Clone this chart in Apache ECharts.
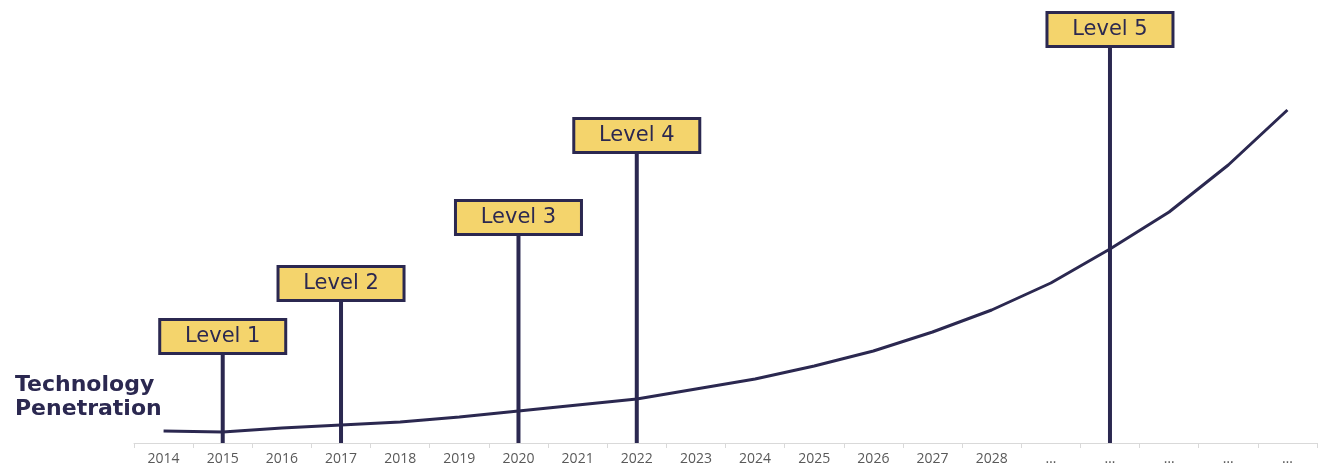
<!DOCTYPE html>
<html>
<head>
<meta charset="utf-8">
<script src="https://cdn.jsdelivr.net/npm/echarts@6/dist/echarts.min.js"></script>
<style>
  html, body { margin: 0; padding: 0; background: #fff; }
  #chart { width: 1324px; height: 467px; }
</style>
</head>
<body>
<div id="chart"></div>
<script>
// categories on the x axis
const years = ['2014', '2015', '2016', '2017', '2018', '2019', '2020', '2021', '2022', '2023',
  '2024', '2025', '2026', '2027', '2028', '…', '… ', '…  ', '…   ', '…    '];
// technology penetration curve
const penetration = [3, 2.75, 3.75, 4.5, 5.25, 6.5, 8, 9.5, 11, 13.5,
  16, 19.25, 23, 27.75, 33.25, 40, 48.5, 57.75, 69.5, 83.25];
// autonomy levels: where each marker stands and how tall its pole is
const levelNames = ['Level 1', 'Level 2', 'Level 3', 'Level 4', 'Level 5'];
const levelAt = ['2015', '2017', '2020', '2022', '… '];
const levelHeight = [22.75, 36, 52.5, 73, 99.5];

const ink = '#2b2850';

const levelData = years.map(function (y) {
  const i = levelAt.indexOf(y);
  if (i < 0) return null;
  return { value: levelHeight[i], name: levelNames[i] };
});

const chart = echarts.init(document.getElementById('chart'));
chart.setOption({
  animation: false,
  title: {
    text: 'Technology\nPenetration',
    left: 10,
    top: 368,
    textStyle: {
      fontFamily: 'DejaVu Sans',
      fontWeight: 'bold',
      fontSize: 22,
      lineHeight: 24,
      color: ink
    }
  },
  grid: { left: 134, right: 7, top: 43, bottom: 24, containLabel: false },
  xAxis: {
    type: 'category',
    data: years,
    boundaryGap: true,
    axisLine: { lineStyle: { color: '#d9d9d9', width: 1 } },
    axisTick: { show: true, length: 5, lineStyle: { color: '#d9d9d9' } },
    axisLabel: {
      color: '#595959',
      fontSize: 14,
      fontFamily: 'Open Sans',
      margin: 9,
      formatter: function (v) { return v.trim(); }
    }
  },
  yAxis: {
    type: 'value',
    min: 0,
    max: 100,
    show: false,
    splitLine: { show: false }
  },
  series: [
    {
      type: 'line',
      data: penetration,
      symbol: 'none',
      lineStyle: { color: ink, width: 3 },
      z: 3
    },
    {
      type: 'bar',
      data: levelData,
      barWidth: 4,
      itemStyle: { color: ink },
      z: 4,
      label: {
        show: true,
        position: 'top',
        distance: 0,
        formatter: '{b}',
        fontFamily: 'DejaVu Sans',
        fontSize: 21,
        color: ink,
        backgroundColor: '#f4d46c',
        borderColor: ink,
        borderWidth: 3,
        width: 123,
        height: 26,
        lineHeight: 26,
        align: 'center',
        padding: [3, 0, 2, 0]
      }
    }
  ]
});
</script>
</body>
</html>
